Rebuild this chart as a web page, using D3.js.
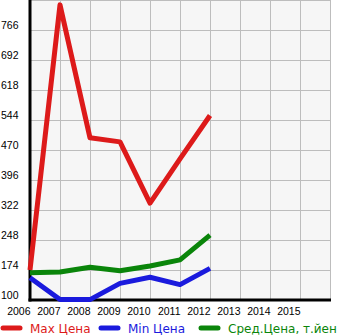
<!DOCTYPE html>
<html>
<head>
<meta charset="utf-8">
<script src="https://cdn.jsdelivr.net/npm/d3@7"></script>
<style>
  body { margin: 0; background: #fff; }
  svg { display: block; font-family: "DejaVu Sans", sans-serif; }
</style>
</head>
<body>
<svg id="chart" width="345" height="335"></svg>
<script>
const years = [2006, 2007, 2008, 2009, 2010, 2011, 2012];
const maxPrice = [174, 828, 500, 490, 339, 448, 555];
const minPrice = [155, 101, 101, 141, 156, 138, 178];
const avgPrice = [167, 169, 181, 172, 184, 199, 260];
const yTicks = [100, 174, 248, 322, 396, 470, 544, 618, 692, 766];
const xTicks = [2006, 2007, 2008, 2009, 2010, 2011, 2012, 2013, 2014, 2015];
const legendNames = ['Max Цена', 'Min Цена', 'Сред.Цена, т.йен'];
const colors = ['#dd1a1a', '#1a1add', '#0a850a'];

const svg = d3.select('#chart');
const plot = { left: 30, right: 330, top: 0, bottom: 300 };

const x = d3.scaleLinear().domain([2006, 2016]).range([plot.left, plot.right]);
const y = d3.scaleLinear().domain([100, 840]).range([plot.bottom, plot.top]);

svg.append('rect')
  .attr('x', plot.left).attr('y', plot.top)
  .attr('width', plot.right - plot.left).attr('height', plot.bottom - plot.top)
  .attr('fill', '#f6f6f6');

// grid
const grid = svg.append('g').attr('stroke', '#bdbdbd').attr('stroke-width', 1);
grid.selectAll('.gx')
  .data(d3.range(2007, 2017))
  .join('line')
    .attr('x1', d => x(d) + 0.5).attr('x2', d => x(d) + 0.5)
    .attr('y1', plot.top).attr('y2', plot.bottom);
grid.selectAll('.gy')
  .data(yTicks.concat([840]))
  .join('line')
    .attr('x1', plot.left).attr('x2', plot.right + 1)
    .attr('y1', d => y(d) + 0.5).attr('y2', d => y(d) + 0.5);

// axes
const xAxis = svg.append('g')
  .attr('transform', `translate(0,${plot.bottom})`)
  .call(d3.axisBottom(x).tickValues(xTicks).tickSize(0).tickFormat(d3.format('d')));
xAxis.select('.domain').remove();
xAxis.selectAll('text')
  .attr('text-anchor', 'end')
  .attr('dy', 0).attr('y', 15)
  .attr('fill', '#000')
  .style('font-size', '10.5px');

const yAxis = svg.append('g')
  .call(d3.axisLeft(y).tickValues(yTicks).tickSize(0));
yAxis.select('.domain').remove();
yAxis.selectAll('text')
  .attr('text-anchor', 'start')
  .attr('x', 1).attr('dy', -2)
  .attr('fill', '#000')
  .style('font-size', '10.5px');

svg.append('line')
  .attr('x1', plot.left).attr('x2', plot.left)
  .attr('y1', plot.top).attr('y2', plot.bottom + 1.5)
  .attr('stroke', '#000').attr('stroke-width', 3);
svg.append('line')
  .attr('x1', plot.left - 1.5).attr('x2', plot.right + 1)
  .attr('y1', plot.bottom).attr('y2', plot.bottom)
  .attr('stroke', '#000').attr('stroke-width', 3);

// lines
const line = d3.line()
  .x((d, i) => x(years[i]))
  .y(d => y(d));

svg.append('g')
  .selectAll('path')
  .data([avgPrice, minPrice, maxPrice].map((s, i) => ({ s, c: colors[2 - i] })))
  .join('path')
    .attr('d', d => line(d.s))
    .attr('fill', 'none')
    .attr('stroke', d => d.c)
    .attr('stroke-width', 5)
    .attr('stroke-linejoin', 'round');

// legend
const legendX = [0, 98, 198];
const legend = svg.append('g')
  .selectAll('g')
  .data(legendNames)
  .join('g')
    .attr('transform', (d, i) => `translate(${legendX[i]},328)`);
legend.append('line')
  .attr('x1', 3).attr('x2', 20)
  .attr('stroke', (d, i) => colors[i])
  .attr('stroke-width', 5)
  .attr('stroke-linecap', 'round');
legend.append('text')
  .attr('x', 30).attr('y', 4.5)
  .attr('fill', (d, i) => colors[i])
  .style('font-size', '12px')
  .text(d => d);
</script>
</body>
</html>
